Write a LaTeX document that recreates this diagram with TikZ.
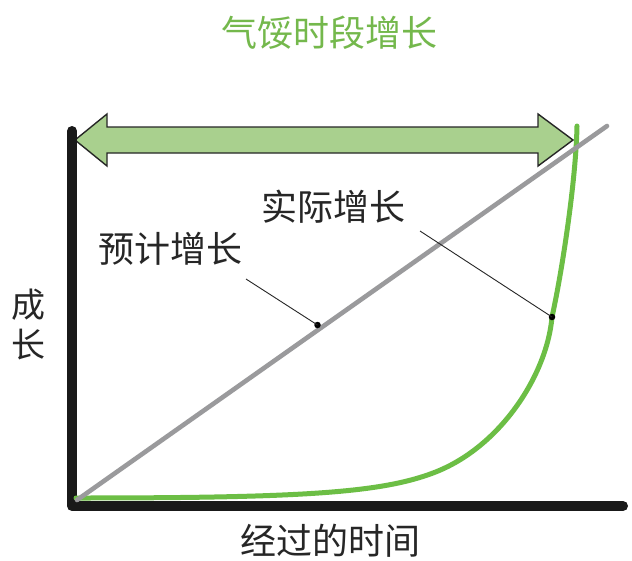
\documentclass[tikz,border=0pt]{standalone}
\usepackage{fontspec}
\setmainfont{Noto Sans CJK SC}
\begin{document}
\begin{tikzpicture}[x=1pt,y=-1pt,
  lbl/.style={inner sep=0pt, text=black!85, font=\fontsize{36}{40}\selectfont},
  ttl/.style={inner sep=0pt, text=titlegreen, font=\fontsize{36}{40}\selectfont},
  axisline/.style={line width=10pt, black!90, line cap=round, line join=round},
  leader/.style={line width=0.9pt, black!85},
  dotmark/.style={circle, fill=black, inner sep=0pt, minimum size=6.5pt}]
\definecolor{titlegreen}{HTML}{74B84C}
\definecolor{curvegreen}{HTML}{6CBE45}
\definecolor{arrowfill}{HTML}{A9D08E}
\definecolor{linegray}{HTML}{9A9A9C}
\useasboundingbox (0,0) rectangle (632,560);
\fill[white] (0,0) rectangle (632,560);

% title
\node[ttl] (title) at (329,33) {气馁时段增长};

% double arrow
\draw[fill=arrowfill, draw=black!85, line width=1.4pt, line join=miter]
  (75,140) -- (107,114) -- (107,127) -- (538,127) -- (538,114) -- (573,140)
  -- (538,166) -- (538,153) -- (107,153) -- (107,166) -- cycle;

% axes
\coordinate (ytop) at (72,131);
\coordinate (origin) at (72,506);
\coordinate (xend) at (623,506);
\draw[axisline] (ytop) -- (origin) -- (xend);

% actual growth curve
\coordinate (cstart) at (76,498);
\coordinate (cmid) at (433,473);
\coordinate (cdot) at (552,317);
\coordinate (ctop) at (577,126);
\draw[curvegreen, line width=5pt, line cap=round]
  (cstart) .. controls (300,498) and (380,493) .. (cmid)
  .. controls (500,448) and (547,375) .. (cdot)
  .. controls (562,272) and (576,180) .. (ctop);

% expected growth line
\coordinate (gstart) at (77,500);
\coordinate (gend) at (607,126);
\draw[linegray, line width=4.6pt, line cap=round] (gstart) -- (gend);

% labels
\node[lbl] (expected) at (170,249) {预计增长};
\node[lbl] (actual) at (333,207) {实际增长};
\node[lbl, align=center, font=\fontsize{34}{40}\selectfont] (growth) at (28,324) {成\\长};
\node[lbl] (time) at (330,541) {经过的时间};

% leaders
\node[dotmark] (edot) at (317.5,325) {};
\node[dotmark] (adot) at (cdot) {};
\coordinate (estart) at (246,279);
\coordinate (astart) at (420,231);
\draw[leader] (estart) -- (edot.center);
\draw[leader] (astart) -- (adot.center);
\end{tikzpicture}
\end{document}
